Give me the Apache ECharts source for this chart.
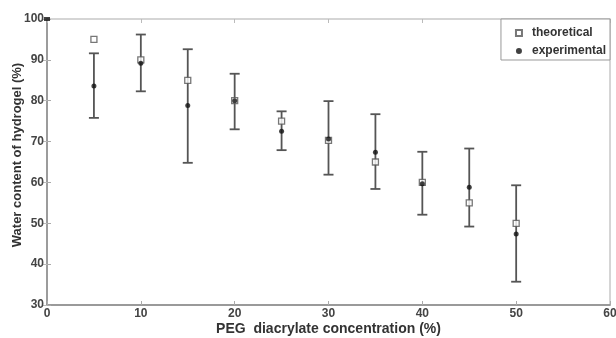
<!DOCTYPE html>
<html><head><meta charset="utf-8">
<script src="https://cdn.jsdelivr.net/npm/echarts@6/dist/echarts.min.js"></script>
<style>html,body{margin:0;padding:0;background:#fff}#c{width:616px;height:338px}</style>
</head><body><div id="c"></div>
<script>
const concentrations = [5, 10, 15, 20, 25, 30, 35, 40, 45, 50];
const theoretical = [95, 90, 85, 80, 75, 70.3, 65, 60, 55, 50];
const experimental = [83.6, 89.2, 78.8, 80, 72.5, 70.6, 67.4, 59.7, 58.8, 47.4];
const errLower = [75.8, 82.3, 64.8, 73, 67.9, 61.9, 58.4, 52.1, 49.2, 35.7];
const errUpper = [91.6, 96.2, 92.6, 86.6, 77.4, 79.9, 76.7, 67.5, 68.3, 59.3];
const xTicks = [0, 10, 20, 30, 40, 50, 60];
const yTicks = [30, 40, 50, 60, 70, 80, 90, 100];
const cornerMark = [[0, 100]];

const font = 'Liberation Sans, Arial, sans-serif';
const chart = echarts.init(document.getElementById('c'), null, {renderer: 'canvas'});
const errData = concentrations.map((c, i) => [c, errLower[i], errUpper[i]]);
chart.setOption({
  animation: false,
  grid: {left: 47, right: 6, top: 19, bottom: 33, show: true, borderColor: '#c8c8c8', borderWidth: 1.5,
         containLabel: false, outerBoundsMode: 'none'},
  legend: {
    show: true, right: 6, top: 19, orient: 'vertical', itemGap: 6,
    padding: [8, 4, 3, 14], borderColor: '#999', borderWidth: 1, backgroundColor: '#fff',
    itemWidth: 6, itemHeight: 6,
    textStyle: {fontFamily: font, fontWeight: 'bold', fontSize: 12, color: '#333', padding: [0, 0, 0, 5]},
    data: [{name: 'theoretical'}, {name: 'experimental'}]
  },
  xAxis: [{
    type: 'value', min: 0, max: 60, interval: 10,
    name: 'PEG  diacrylate concentration (%)', nameLocation: 'middle', nameGap: 17, nameMoveOverlap: false,
    nameTextStyle: {fontFamily: font, fontWeight: 'bold', fontSize: 14, color: '#333', verticalAlign: 'top'},
    axisLine: {show: true, lineStyle: {color: '#888', width: 1.5}},
    axisTick: {show: true, inside: true, length: 4, lineStyle: {color: '#aaa'}},
    axisLabel: {fontFamily: font, fontWeight: 'bold', fontSize: 12, color: '#444', margin: 3},
    splitLine: {show: false}
  }, {
    type: 'value', min: 0, max: 60, interval: 10, position: 'top',
    axisLine: {show: false}, axisLabel: {show: false},
    axisTick: {show: true, inside: true, length: 4, lineStyle: {color: '#bbb'}},
    splitLine: {show: false}
  }],
  yAxis: [{
    type: 'value', min: 30, max: 100, interval: 10,
    name: 'Water content of hydrogel (%)', nameLocation: 'middle', nameGap: 23, nameMoveOverlap: false,
    nameTextStyle: {fontFamily: font, fontWeight: 'bold', fontSize: 13, color: '#333', padding: [0, 0, 0, 14]},
    axisLine: {show: true, lineStyle: {color: '#888', width: 1.5}},
    axisTick: {show: true, inside: true, length: 4, lineStyle: {color: '#aaa'}},
    axisLabel: {fontFamily: font, fontWeight: 'bold', fontSize: 12, color: '#444', margin: 3},
    splitLine: {show: false}
  }, {
    type: 'value', min: 30, max: 100, interval: 10, position: 'right',
    axisLine: {show: false}, axisLabel: {show: false},
    axisTick: {show: true, inside: true, length: 4, lineStyle: {color: '#bbb'}},
    splitLine: {show: false}
  }],
  series: [
    {
      type: 'custom', name: 'err', silent: true,
      data: errData,
      renderItem: function (params, api) {
        const x = api.value(0);
        const lo = api.coord([x, api.value(1)]);
        const hi = api.coord([x, api.value(2)]);
        const hw = 5;
        const st = {stroke: '#555', lineWidth: 1.8};
        return {type: 'group', children: [
          {type: 'line', shape: {x1: lo[0], y1: lo[1], x2: hi[0], y2: hi[1]}, style: st},
          {type: 'line', shape: {x1: lo[0]-hw, y1: lo[1], x2: lo[0]+hw, y2: lo[1]}, style: st},
          {type: 'line', shape: {x1: hi[0]-hw, y1: hi[1], x2: hi[0]+hw, y2: hi[1]}, style: st}
        ]};
      },
      z: 1
    },
    {
      type: 'scatter', name: 'theoretical',
      data: concentrations.map((c, i) => [c, theoretical[i]]),
      symbol: 'rect', symbolSize: 6,
      itemStyle: {color: '#fff', borderColor: '#555', borderWidth: 1.3},
      z: 3
    },
    {
      type: 'scatter', name: 'experimental',
      data: concentrations.map((c, i) => [c, experimental[i]]),
      symbol: 'circle', symbolSize: 5,
      itemStyle: {color: '#111'},
      z: 4
    },
    {
      type: 'scatter', name: 'corner', silent: true,
      data: cornerMark, symbol: 'rect', symbolSize: [6, 4],
      itemStyle: {color: '#111'}, z: 5
    }
  ]
});
</script>
</body></html>
